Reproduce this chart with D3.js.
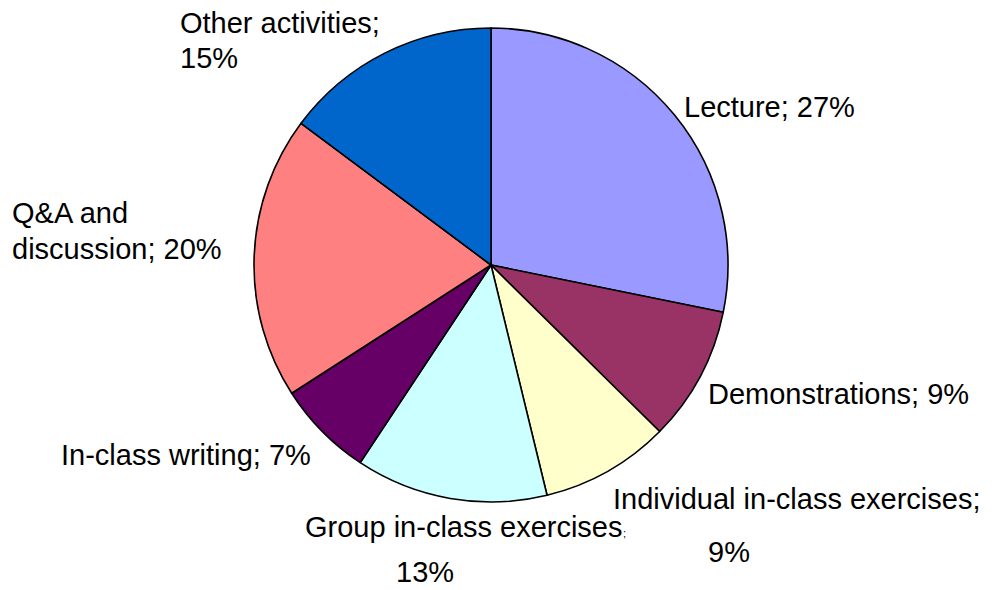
<!DOCTYPE html>
<html>
<head>
<meta charset="utf-8">
<script src="https://cdn.jsdelivr.net/npm/d3@7"></script>
<style>
  body { margin: 0; background: #fff; }
  svg text { font-family: "Liberation Sans", Arial, sans-serif; font-size: 29px; fill: #000; }
</style>
</head>
<body>
<div id="chart"></div>
<script>
// slices, clockwise from 12 o'clock
var categories = ["Lecture", "Demonstrations", "Individual in-class exercises",
  "Group in-class exercises", "In-class writing", "Q&A and discussion", "Other activities"];
var shares = [28.2, 9.2, 8.8, 13.1, 6.6, 19.3, 14.8];
var pctLabels = ["27%", "9%", "9%", "13%", "7%", "20%", "15%"];
var colors = ["#9999FF", "#993366", "#FFFFCC", "#CCFFFF", "#660066", "#FF8080", "#0066CC"];

var svgWidth = 992;
var svgHeight = 590;
var cx = 491, cy = 265, radius = 237;

var svg = d3.select("#chart")
  .append("svg")
  .attr("width", svgWidth)
  .attr("height", svgHeight);

var pieG = svg.append("g")
  .attr("transform", `translate(${cx}, ${cy})`);

var pie = d3.pie().sort(null).value(d => d);
var arc = d3.arc().innerRadius(0).outerRadius(radius);

pieG.selectAll("path")
  .data(pie(shares))
  .enter()
  .append("path")
  .attr("d", arc)
  .attr("fill", (d, i) => colors[i])
  .attr("stroke", "#000")
  .attr("stroke-width", 1.6)
  .attr("stroke-linejoin", "round");

// label lines as Excel placed them: [text, x, y]
var labelLines = [
  [[categories[0] + "; " + pctLabels[0], 684, 117]],
  [[categories[1] + "; " + pctLabels[1], 708, 404]],
  [[categories[2] + ";", 613, 509], [pctLabels[2], 708, 562]],
  [[categories[3], 305, 537], [pctLabels[3], 396, 582]],
  [[categories[4] + "; " + pctLabels[4], 61, 465]],
  [["Q&A and", 12, 223], ["discussion; " + pctLabels[5], 12, 259]],
  [[categories[6] + ";", 180, 33], [pctLabels[6], 180, 68]]
];

labelLines.forEach(function(lines) {
  lines.forEach(function(l) {
    svg.append("text")
      .attr("x", l[1])
      .attr("y", l[2])
      .text(l[0]);
  });
});

// the tiny semicolon after "Group in-class exercises"
svg.append("text")
  .attr("x", 623)
  .attr("y", 537)
  .style("font-size", "11px")
  .text(";");
</script>
</body>
</html>
